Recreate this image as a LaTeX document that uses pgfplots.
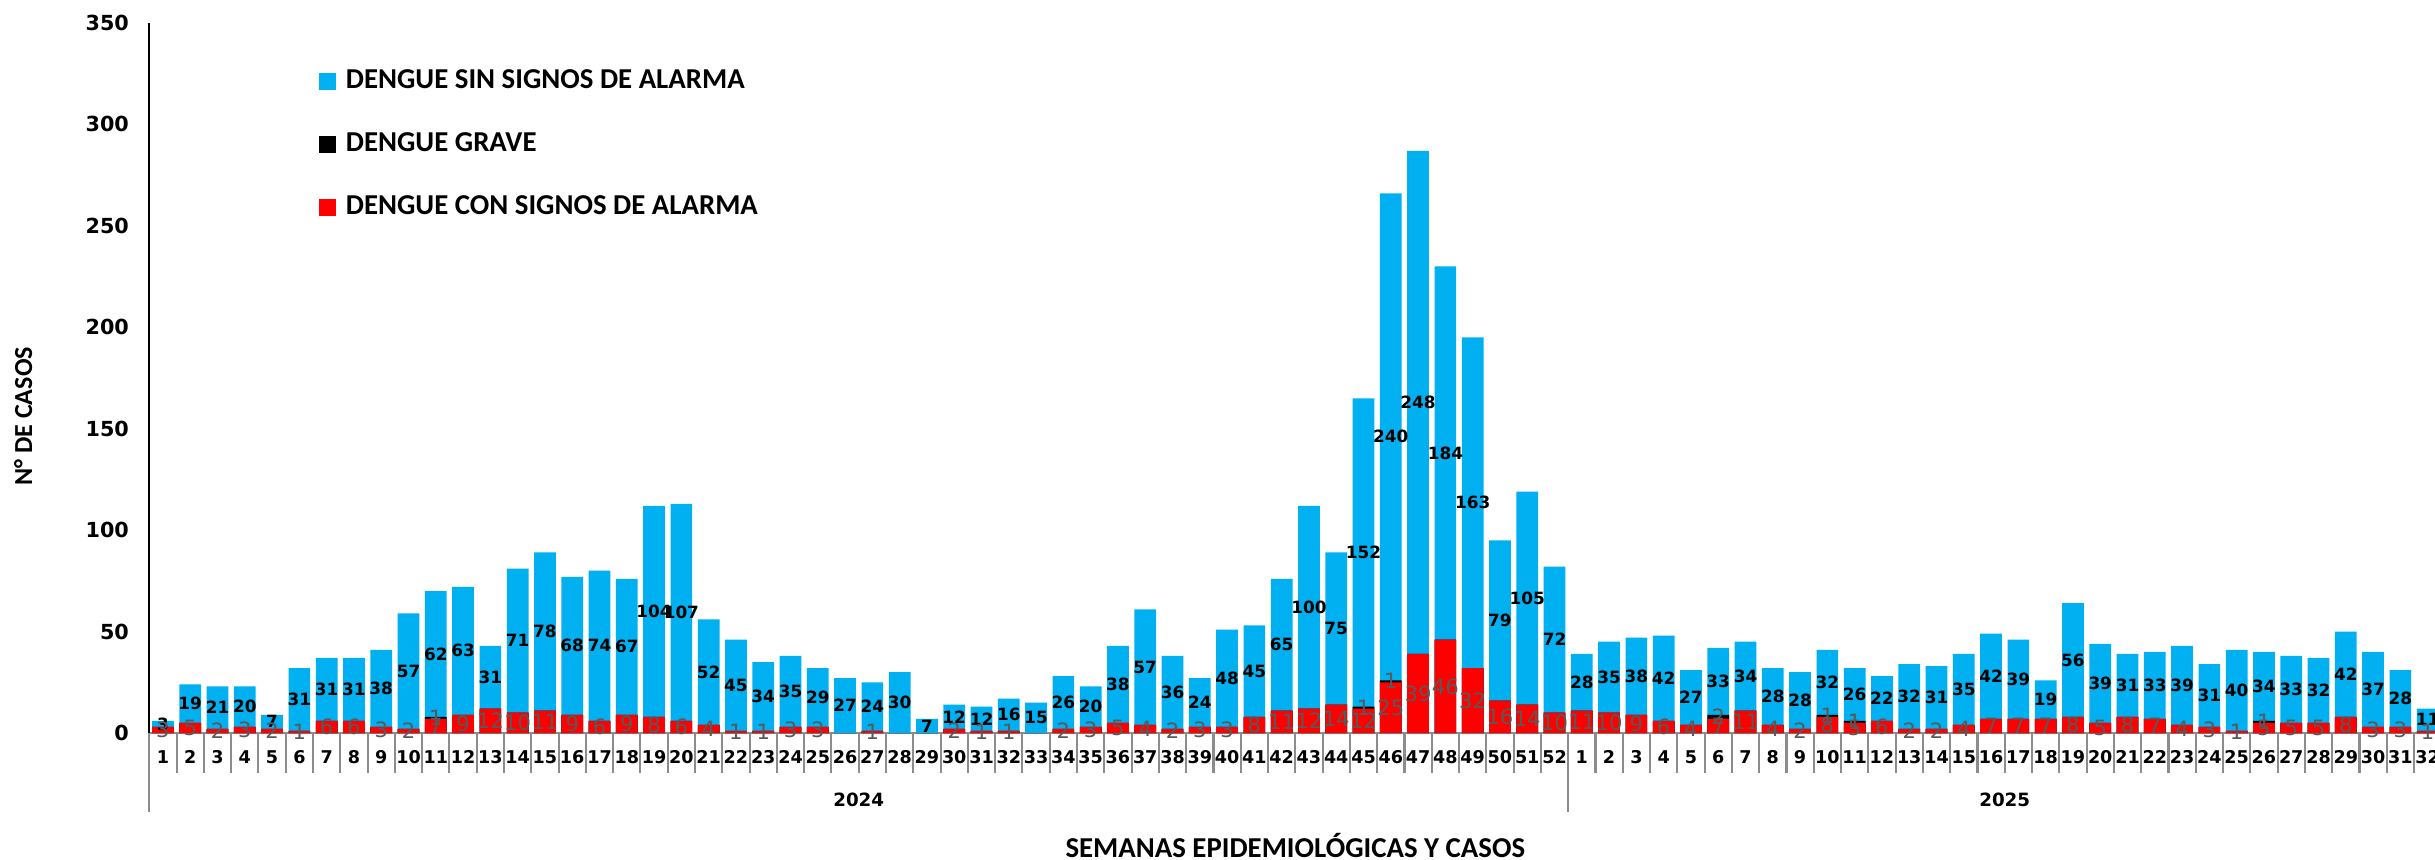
\documentclass[border=0pt]{standalone}
\usepackage{fontspec}
\setmainfont{Carlito}
\newfontfamily\dvs{DejaVu Sans}
\usepackage{pgfplots}
\usepackage{pgfplotstable}
\pgfplotsset{compat=1.18}
\definecolor{sinsig}{HTML}{00B0F0}
\definecolor{consig}{HTML}{FF0000}
\definecolor{lblgray}{HTML}{595959}
\definecolor{sepgray}{HTML}{8C8C8C}

% semana (1-52 = 2024, 53-84 = 2025), con signos, grave, sin signos
\pgfplotstableread{
x red grave sin
1 3 0 3
2 5 0 19
3 2 0 21
4 3 0 20
5 2 0 7
6 1 0 31
7 6 0 31
8 6 0 31
9 3 0 38
10 2 0 57
11 7 1 62
12 9 0 63
13 12 0 31
14 10 0 71
15 11 0 78
16 9 0 68
17 6 0 74
18 9 0 67
19 8 0 104
20 6 0 107
21 4 0 52
22 1 0 45
23 1 0 34
24 3 0 35
25 3 0 29
26 0 0 27
27 1 0 24
28 0 0 30
29 0 0 7
30 2 0 12
31 1 0 12
32 1 0 16
33 0 0 15
34 2 0 26
35 3 0 20
36 5 0 38
37 4 0 57
38 2 0 36
39 3 0 24
40 3 0 48
41 8 0 45
42 11 0 65
43 12 0 100
44 14 0 75
45 12 1 152
46 25 1 240
47 39 0 248
48 46 0 184
49 32 0 163
50 16 0 79
51 14 0 105
52 10 0 72
53 11 0 28
54 10 0 35
55 9 0 38
56 6 0 42
57 4 0 27
58 7 2 33
59 11 0 34
60 4 0 28
61 2 0 28
62 8 1 32
63 5 1 26
64 6 0 22
65 2 0 32
66 2 0 31
67 4 0 35
68 7 0 42
69 7 0 39
70 7 0 19
71 8 0 56
72 5 0 39
73 8 0 31
74 7 0 33
75 4 0 39
76 3 0 31
77 1 0 40
78 5 1 34
79 5 0 33
80 5 0 32
81 8 0 42
82 3 0 37
83 3 0 28
84 1 0 11
}\casos

\begin{document}
\begin{tikzpicture}
\begin{axis}[
  at={(1.493cm,1.26cm)}, anchor=south west,
  scale only axis, width=22.92cm, height=7.10cm,
  xmin=0.5, xmax=84.5, ymin=0, ymax=350,
  clip=false,
  axis x line*=bottom, axis y line*=left,
  x axis line style={sepgray, line width=0.7pt},
  y axis line style={black, line width=0.6pt},
  tick align=outside,
  major tick length=0.4cm, minor tick length=0.06cm,
  ytick={0,50,...,350},
  minor ytick={0,50,...,350},
  ytick style={draw=none},
  minor y tick style={black, line width=0.6pt},
  yticklabel style={font=\fontsize{5.9}{7}\dvs\bfseries, xshift=0.32cm},
  /pgf/number format/assume math mode=true,
  xtick={0.5,1.5,...,84.5},
  x tick label as interval,
  xticklabels={1,2,3,4,5,6,7,8,9,10,11,12,13,14,15,16,17,18,19,20,21,22,23,24,25,26,27,28,29,30,31,32,33,34,35,36,37,38,39,40,41,42,43,44,45,46,47,48,49,50,51,52,1,2,3,4,5,6,7,8,9,10,11,12,13,14,15,16,17,18,19,20,21,22,23,24,25,26,27,28,29,30,31,32},
  xtick style={sepgray, line width=0.6pt},
  xticklabel style={font=\fontsize{5}{6}\dvs\bfseries, anchor=center, yshift=0.16cm},
  xlabel={SEMANAS EPIDEMIOLÓGICAS Y CASOS},
  xlabel style={font=\fontsize{8.2}{10}\selectfont\bfseries, at={(axis description cs:0.5,-0.158)}, anchor=center},
  ylabel={N° DE CASOS},
  ylabel style={font=\fontsize{7.4}{9}\selectfont\bfseries, at={(axis description cs:-0.055,0.446)}, anchor=center},
  legend style={at={(axis cs:6.69,331)}, anchor=north west, draw=none, fill=none,
    inner sep=0pt, row sep=0.25cm, font=\fontsize{8.2}{9}\selectfont\bfseries,
    /tikz/every odd column/.append style={column sep=0.03cm}},
  legend cell align=left,
  legend image code/.code={\fill[#1] (0cm,-0.085cm) rectangle (0.17cm,0.085cm);},
]
% barras superpuestas: total, con signos + grave, con signos
\addplot[ybar, bar width=0.217cm, bar shift=0pt, fill=sinsig, draw=none]
  table[x=x, y expr={\thisrow{red}+\thisrow{grave}+\thisrow{sin}}] {\casos};
\addplot[ybar, bar width=0.217cm, bar shift=0pt, fill=black, draw=none]
  table[x=x, y expr={\thisrow{red}+\thisrow{grave}}] {\casos};
\addplot[ybar, bar width=0.217cm, bar shift=0pt, fill=consig, draw=none]
  table[x=x, y=red] {\casos};
\legend{DENGUE SIN SIGNOS DE ALARMA, DENGUE GRAVE, DENGUE CON SIGNOS DE ALARMA}

% separadores largos entre años
\addplot[ycomb, sepgray, line width=0.6pt, mark=none, forget plot]
  coordinates {(0.5,-39) (52.5,-39)};

% etiquetas
\addplot[draw=none, mark=none, forget plot, nodes near coords, point meta=explicit,
  every node near coord/.append style={anchor=center, inner sep=0pt, text=black, font=\fontsize{4.8}{5}\dvs\bfseries}]
  table[x=x, y expr={\thisrow{red}+\thisrow{grave}+\thisrow{sin}/2}, meta=sin] {\casos};
\addplot[draw=none, mark=none, forget plot, nodes near coords, point meta=explicit,
  every node near coord/.append style={anchor=center, inner sep=0pt, text=lblgray, font=\fontsize{6}{7}\dvs}]
  table[x=x, y expr={\thisrow{red}>0 ? \thisrow{red}/2 : nan}, meta=red] {\casos};
\addplot[draw=none, mark=none, forget plot, nodes near coords, point meta=explicit,
  every node near coord/.append style={anchor=center, inner sep=0pt, text=lblgray, font=\fontsize{6}{7}\dvs}]
  table[x=x, y expr={\thisrow{grave}>0 ? \thisrow{red}+\thisrow{grave}/2 : nan}, meta=grave] {\casos};

\node[font=\fontsize{5.2}{6}\dvs\bfseries] at (axis cs:26.5,-33) {2024};
\node[font=\fontsize{5.2}{6}\dvs\bfseries] at (axis cs:68.5,-33) {2025};
\end{axis}
\pgfresetboundingbox
\path[use as bounding box] (0,0) rectangle (24.35cm,8.59cm);
\end{tikzpicture}
\end{document}
